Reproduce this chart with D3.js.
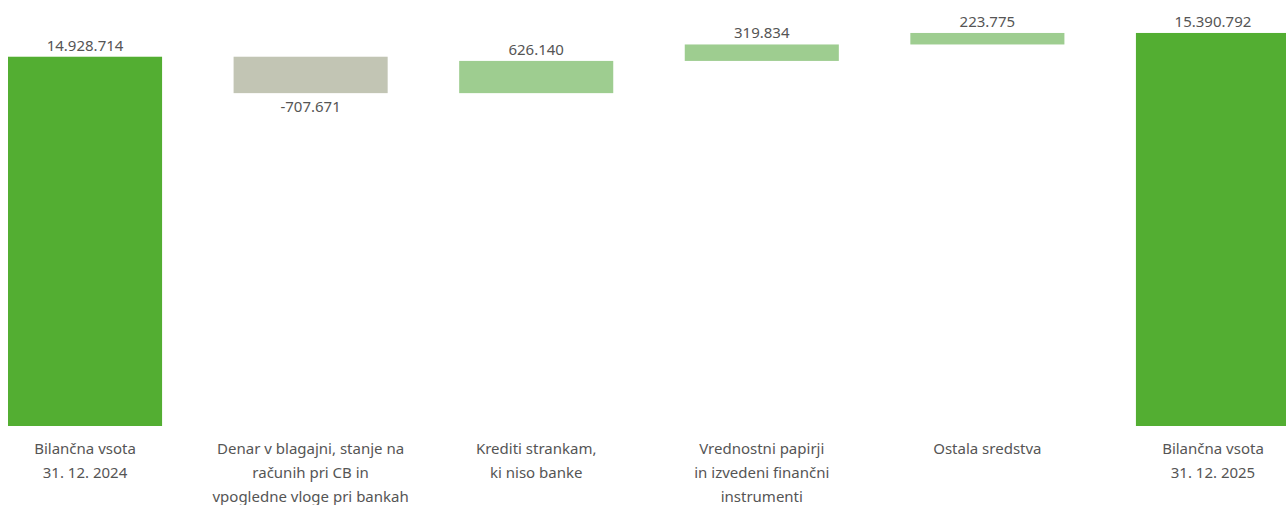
<!DOCTYPE html>
<html>
<head>
<meta charset="utf-8">
<script src="https://cdn.jsdelivr.net/npm/d3@7"></script>
<style>
  html, body { margin: 0; padding: 0; background: #fff; overflow: hidden; }
  svg { display: block; font-family: "Noto Sans", Roboto, sans-serif; }
</style>
</head>
<body>
<svg id="chart" width="1286" height="505"></svg>
<script>
'use strict'

// categories, with line breaks as in the source
const categories = [
  ['Bilančna vsota', '31. 12. 2024'],
  ['Denar v blagajni, stanje na', 'računih pri CB in', 'vpogledne vloge pri bankah'],
  ['Krediti strankam,', 'ki niso banke'],
  ['Vrednostni papirji', 'in izvedeni finančni', 'instrumenti'],
  ['Ostala sredstva'],
  ['Bilančna vsota', '31. 12. 2025']
]
const values = [14928714, -707671, 626140, 319834, 223775, 15390792]
const isTotal = [true, false, false, false, false, true]

const colors = { total: '#53ae32', up: '#9ecd90', down: '#c2c5b4', text: '#555' }

// build waterfall steps
let running = 0
const steps = values.map((v, i) => {
  let start, end
  if (isTotal[i]) { start = null; end = v; running = v }
  else { start = running; end = running + v; running = end }
  return { i, v, start, end, total: isTotal[i], lines: categories[i] }
})

const svg = d3.select('#chart')

const x = d3.scaleBand()
  .domain(steps.map(d => d.i))
  .range([8, 1290])
  .paddingInner(0.317)
  .paddingOuter(0)

const y = d3.scaleLinear()
  .domain([7.75e6, 15.39e6])
  .range([426, 33])

const fmt = v => d3.format(',')(v).replace(/,/g, '.')

svg.append('g')
  .selectAll('rect')
  .data(steps)
  .join('rect')
  .attr('x', d => x(d.i))
  .attr('width', x.bandwidth())
  .attr('y', d => d.total ? y(d.end) : y(Math.max(d.start, d.end)))
  .attr('height', d => d.total ? y.range()[0] - y(d.end) : Math.abs(y(d.start) - y(d.end)))
  .attr('fill', d => d.total ? colors.total : (d.v < 0 ? colors.down : colors.up))

// value labels
svg.append('g')
  .selectAll('text')
  .data(steps)
  .join('text')
  .attr('x', d => x(d.i) + x.bandwidth() / 2)
  .attr('y', d => d.v < 0 ? y(d.end) + 19 : y(d.end) - 6)
  .attr('text-anchor', 'middle')
  .attr('font-size', 15)
  .attr('fill', colors.text)
  .text(d => (d.v < 0 ? '-' : '') + fmt(Math.abs(d.v)))

// category labels
const cat = svg.append('g')
  .selectAll('text')
  .data(steps)
  .join('text')
  .attr('text-anchor', 'middle')
  .attr('font-size', 15)
  .attr('fill', colors.text)

cat.selectAll('tspan')
  .data(d => d.lines.map(l => ({ l, cx: x(d.i) + x.bandwidth() / 2 })))
  .join('tspan')
  .attr('x', d => d.cx)
  .attr('y', (d, k) => 454 + k * 24)
  .text(d => d.l)
</script>
</body>
</html>
